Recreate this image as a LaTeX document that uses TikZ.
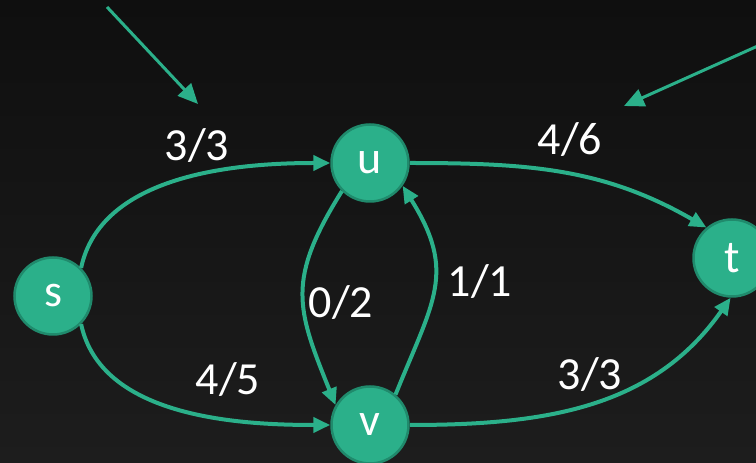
\documentclass[tikz,border=0pt]{standalone}
\usepackage{fontspec}
\setmainfont{Carlito}
\usetikzlibrary{arrows.meta}
\definecolor{greenColor}{RGB}{43,176,138}
\definecolor{borderColor}{RGB}{32,138,108}
\definecolor{bgTop}{RGB}{15,15,15}
\definecolor{bgBottom}{RGB}{29,29,29}

\begin{document}
\begin{tikzpicture}[
    x=1pt, y=1pt,
    vertice/.style={
        circle,
        draw=borderColor,
        line width=2.5pt,
        fill=greenColor,
        minimum size=77pt,
        inner sep=0pt,
        text=white,
        font=\fontsize{46}{50}\selectfont
    },
    flujo/.style={
        text=white,
        inner sep=0pt,
        font=\fontsize{46}{50}\selectfont
    },
    arista/.style={
        -{Triangle[length=17pt,width=15pt]},
        line width=4pt,
        draw=greenColor
    },
    puntero/.style={
        -{Triangle[length=20pt,width=18pt]},
        line width=3pt,
        draw=greenColor
    }
]

    \fill[top color=bgTop, bottom color=bgBottom] (0,0) rectangle (756,463);
    \useasboundingbox (0,0) rectangle (756,463);

    \node[vertice] (s) at (53,167) {s};
    \node[vertice] (u) at (370,300) {u};
    \node[vertice] (v) at (370,38) {v};
    \node[vertice] (t) at (732,205) {t};

    \node[flujo] (fsu) at (197,317) {3/3};
    \node[flujo] (fut) at (570,323) {4/6};
    \node[flujo] (fuv) at (341,160) {0/2};
    \node[flujo] (fvu) at (480,181) {1/1};
    \node[flujo] (fsv) at (228,83) {4/5};
    \node[flujo] (fvt) at (590,88) {3/3};

    \coordinate (p1a) at (107,456);
    \coordinate (p1b) at (198,359);
    \coordinate (p2a) at (760,418);
    \coordinate (p2b) at (624,357);

    \draw[puntero] (p1a) -- (p1b);
    \draw[puntero] (p2a) -- (p2b);

    \draw[arista] (s.45) to[out=78, in=180, looseness=0.9] (u.west);
    \draw[arista] (s.-45) to[out=-78, in=180, looseness=0.9] (v.west);
    \draw[arista] (u.east) to[out=0, in=150] (t.130);
    \draw[arista] (v.east) to[out=0, in=-125] (t.-92);
    \draw[arista] (u.225) to[out=238, in=112, looseness=1.25] (v.150);
    \draw[arista] (v.50) to[out=68, in=-58, looseness=1.25] (u.-35);

\end{tikzpicture}
\end{document}
